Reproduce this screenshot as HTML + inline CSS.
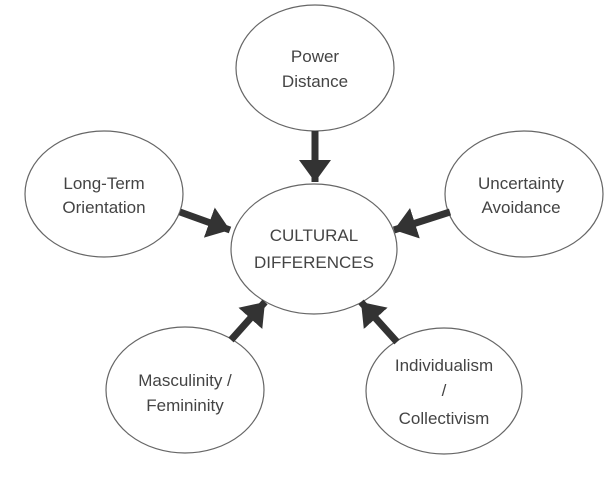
<!DOCTYPE html>
<html><head><style>html,body{margin:0;padding:0;background:#fff}svg{display:block}</style></head>
<body>
<svg width="608" height="480" viewBox="0 0 608 480" xmlns="http://www.w3.org/2000/svg">
<defs>
<marker id="a" markerUnits="userSpaceOnUse" markerWidth="24" markerHeight="32" refX="22" refY="16" orient="auto">
<path d="M0,0 L22,16 L0,32 Z" fill="#333"/>
</marker>
</defs>
<g fill="#fff" stroke="#666" stroke-width="1.2">
<ellipse cx="315" cy="68" rx="79" ry="63"/>
<ellipse cx="314" cy="249" rx="83" ry="65"/>
<ellipse cx="104" cy="194" rx="79" ry="63"/>
<ellipse cx="524" cy="194" rx="79" ry="63"/>
<ellipse cx="185" cy="390" rx="79" ry="63"/>
<ellipse cx="444" cy="391" rx="78" ry="63"/>
</g>
<g stroke="#333" stroke-width="7" marker-end="url(#a)">
<line x1="315" y1="131" x2="315" y2="182"/>
<line x1="180" y1="212" x2="230" y2="230"/>
<line x1="450" y1="212" x2="394" y2="230"/>
<line x1="231" y1="340" x2="265" y2="302"/>
<line x1="397" y1="342" x2="361" y2="302"/>
</g>
<g font-family="Liberation Sans, sans-serif" font-size="17" fill="#444" text-anchor="middle">
<text x="315" y="62">Power</text><text x="315" y="87">Distance</text>
<text x="104" y="189">Long-Term</text><text x="104" y="213">Orientation</text>
<text x="521" y="189">Uncertainty</text><text x="521" y="213">Avoidance</text>
<text x="314" y="241">CULTURAL</text><text x="314" y="268">DIFFERENCES</text>
<text x="185" y="386">Masculinity /</text><text x="185" y="411">Femininity</text>
<text x="444" y="371">Individualism</text><text x="444" y="396">/</text><text x="444" y="424">Collectivism</text>
</g>
</svg>
</body></html>
